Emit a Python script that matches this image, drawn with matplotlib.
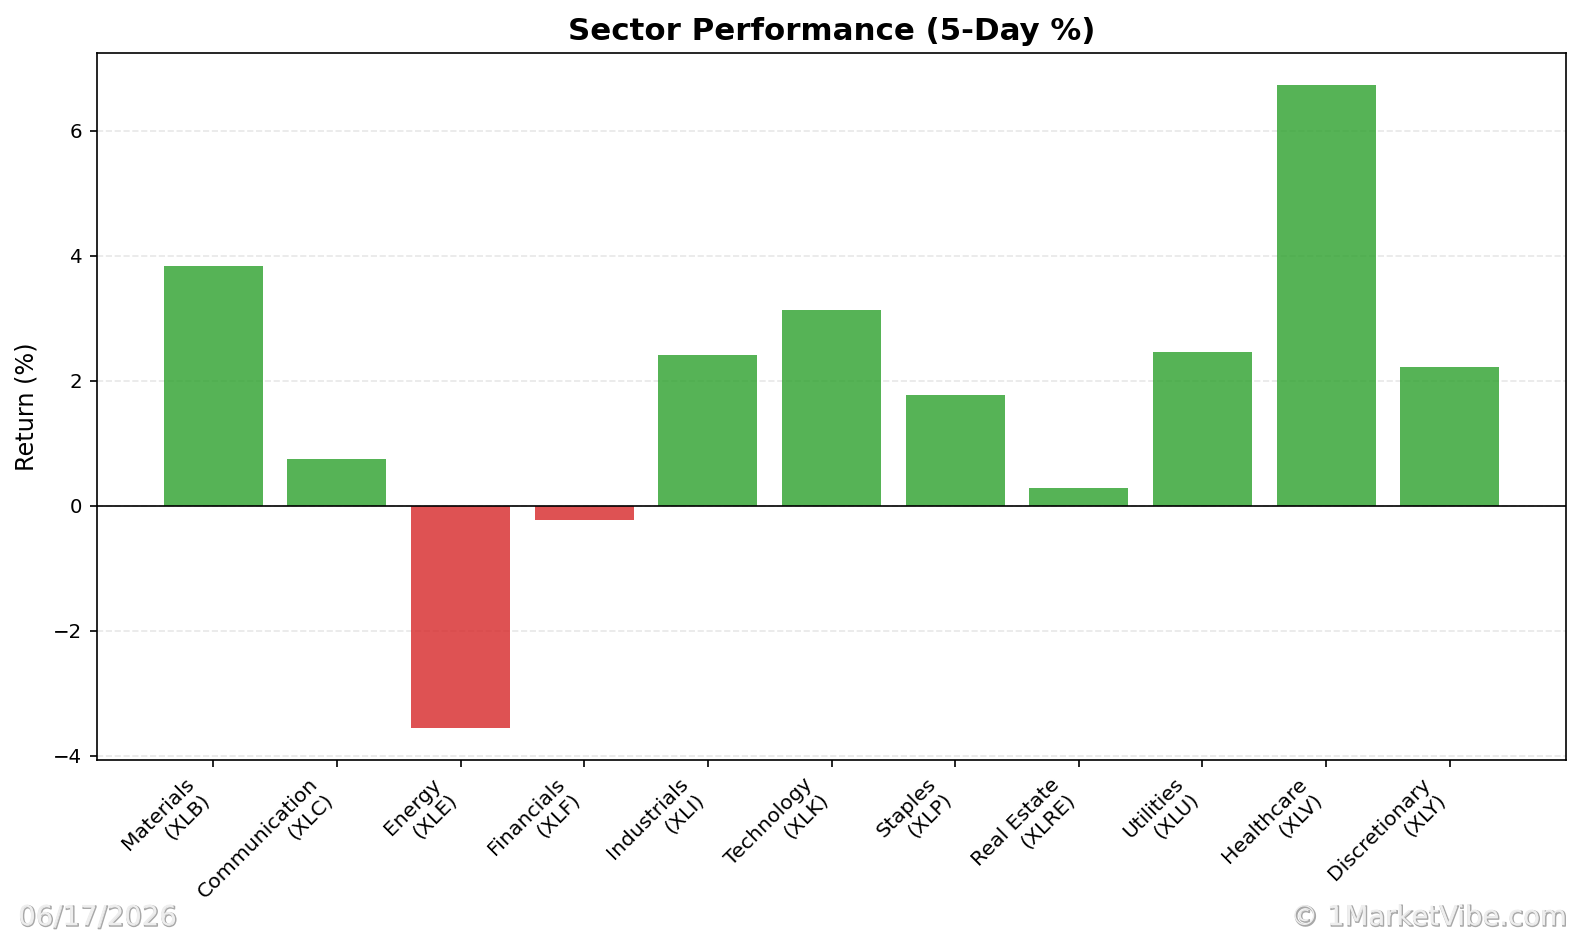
import matplotlib
matplotlib.use("Agg")
import matplotlib.pyplot as plt
import matplotlib.patheffects as pe
import numpy as np

# sector data (5-day % return)
sectors = ["Materials", "Communication", "Energy", "Financials", "Industrials",
           "Technology", "Staples", "Real Estate", "Utilities", "Healthcare",
           "Discretionary"]
tickers = ["XLB", "XLC", "XLE", "XLF", "XLI", "XLK", "XLP", "XLRE", "XLU", "XLV", "XLY"]
returns = [3.83, 0.75, -3.55, -0.23, 2.41, 3.13, 1.77, 0.28, 2.46, 6.73, 2.22]

labels = [f"{s}\n({t})" for s, t in zip(sectors, tickers)]
colors = ["tab:green" if r >= 0 else "tab:red" for r in returns]

fig = plt.figure(figsize=(1582 / 150, 937 / 150), dpi=150)
ax = fig.add_axes([97 / 1582, 1 - 760 / 937, (1566 - 97) / 1582, (760 - 53) / 937])

x = np.arange(len(labels))
ax.bar(x, returns, color=colors, alpha=0.8)
ax.axhline(0, color="black", linewidth=0.8)

ax.set_xticks(x)
ax.set_xticklabels(labels, rotation=45, ha="right", fontsize=9.8)
ax.tick_params(axis="y", labelsize=9.5)
ax.set_ylabel("Return (%)", fontsize=11.5, labelpad=7)
ax.set_title("Sector Performance (5-Day %)", fontsize=14.8, fontweight="bold")
ax.grid(axis="y", linestyle="--", alpha=0.3)
ax.set_axisbelow(True)

# watermarks
effects = [pe.Stroke(linewidth=0.7, foreground="#a8a8a8", offset=(0.5, -0.5)), pe.Normal()]
fig.text(18 / 1582, 1 - 925 / 937, "06/17/2026", fontsize=13.2, color="#eeeeee",
         ha="left", va="baseline", path_effects=effects)
fig.text(1567 / 1582, 1 - 925 / 937, "\u00a9 1MarketVibe.com", fontsize=13.2, color="#eeeeee",
         ha="right", va="baseline", path_effects=effects)

fig.savefig("out.png", dpi=150)
